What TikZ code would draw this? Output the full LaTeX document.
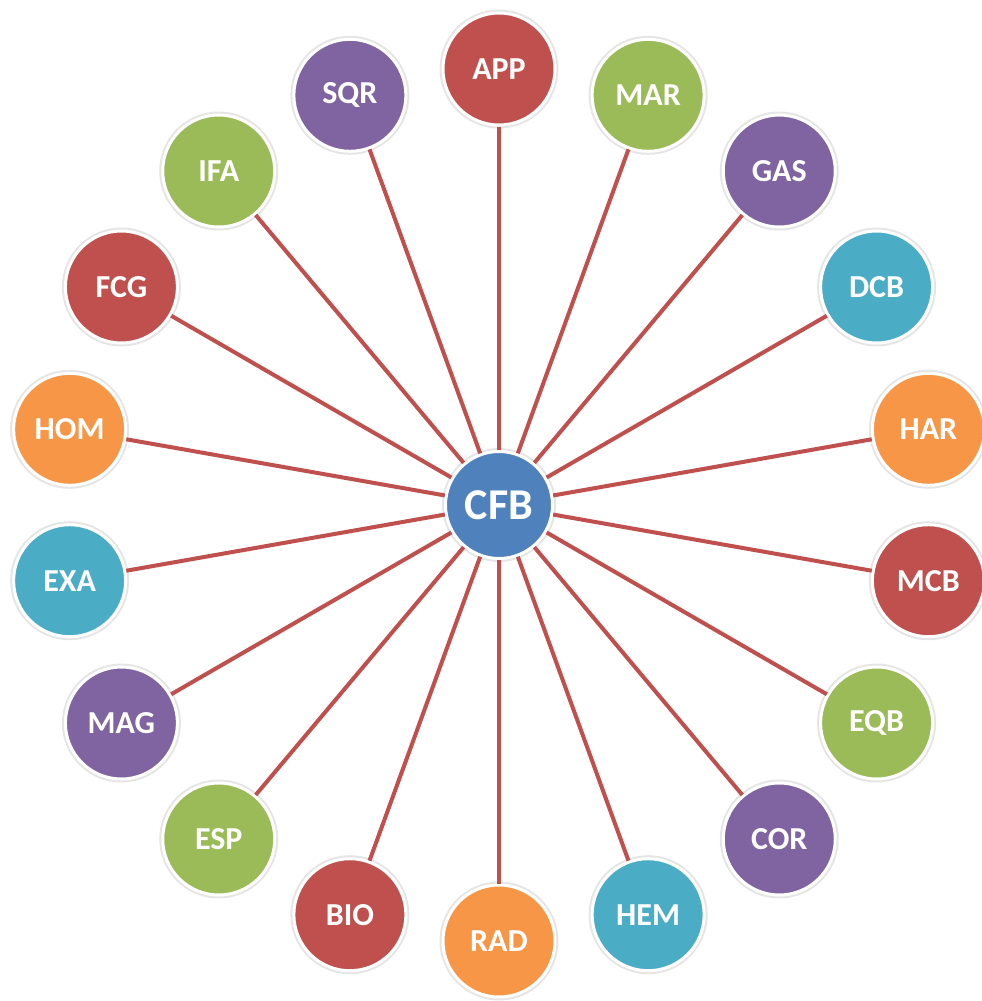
\documentclass[tikz,border=0pt]{standalone}
\usepackage{fontspec}
\setmainfont{Carlito}
\usetikzlibrary{calc}
\definecolor{ored}{HTML}{C0504D}
\definecolor{ogreen}{HTML}{9BBB59}
\definecolor{opurple}{HTML}{8064A2}
\definecolor{oaqua}{HTML}{4BACC6}
\definecolor{oorange}{HTML}{F79646}
\definecolor{oblue}{HTML}{4F81BD}
\definecolor{linkred}{HTML}{C0504D}
\begin{document}
\begin{tikzpicture}[x=1pt,y=-1pt,
  bubble/.style={circle, minimum size=112pt, inner sep=0pt, draw=white, line width=3pt,
    preaction={draw=black!10, line width=7pt},
    text=white, font=\fontsize{32}{32}\selectfont\bfseries},
  hub/.style={bubble, minimum size=107pt, fill=oblue, font=\fontsize{44}{44}\selectfont\bfseries},
  link/.style={draw=linkred, line width=4pt}]
  \useasboundingbox (0,0) rectangle (982,1001);
  % central hub
  \node[hub] (cfb) at (499,505) {CFB};
  % ring of topics, 20 degrees apart, starting at the top and going clockwise
  \foreach \name/\col [count=\k from 0] in {APP/ored, MAR/ogreen, GAS/opurple, DCB/oaqua, HAR/oorange,
      MCB/ored, EQB/ogreen, COR/opurple, HEM/oaqua, RAD/oorange,
      BIO/ored, ESP/ogreen, MAG/opurple, EXA/oaqua, HOM/oorange,
      FCG/ored, IFA/ogreen, SQR/opurple} {
    \pgfmathsetmacro{\ang}{90-20*\k}
    \node[bubble, fill=\col] (t\k) at ($(499,505)+({436*cos(\ang)},{-436*sin(\ang)})$) {\name};
    \draw[link] (cfb) -- (t\k);
  }
\end{tikzpicture}
\end{document}
